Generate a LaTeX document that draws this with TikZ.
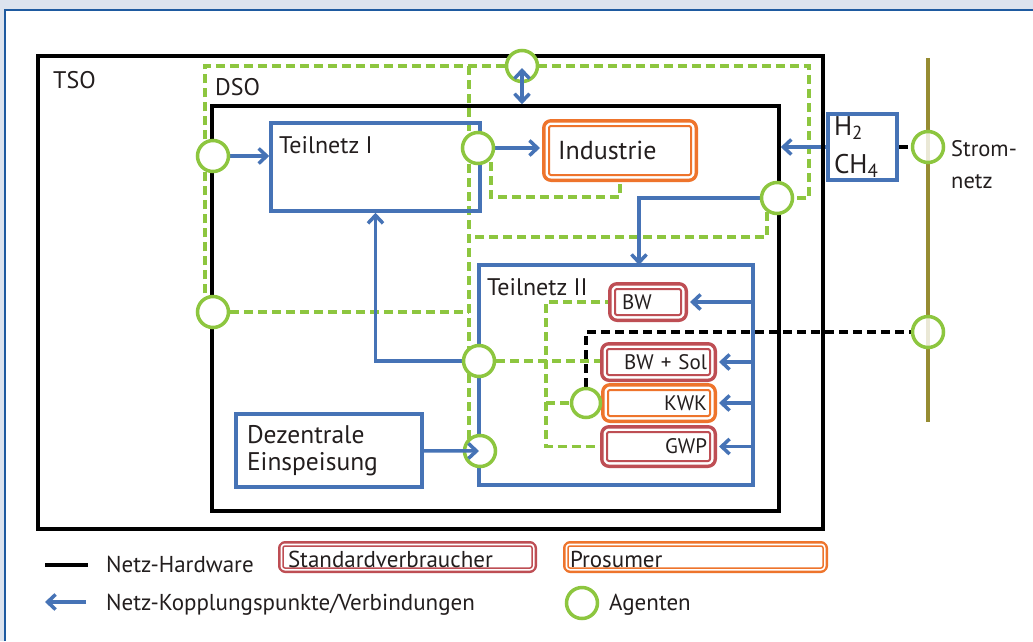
\documentclass[tikz,border=0pt]{standalone}
\usepackage{fontspec}
\setmainfont{PT Sans}
\usepackage{tikz}
\usetikzlibrary{arrows.meta, positioning, backgrounds}
\definecolor{netblue}{RGB}{70, 115, 182}
\definecolor{agentgreen}{RGB}{141, 198, 63}
\definecolor{consred}{RGB}{190, 78, 84}
\definecolor{prosorange}{RGB}{238, 116, 44}
\definecolor{gridolive}{RGB}{150, 140, 50}
\definecolor{framebg}{RGB}{220, 227, 238}
\definecolor{frameblue}{RGB}{30, 90, 160}
\definecolor{labeltext}{RGB}{35, 30, 30}

\tikzset{
  hardware/.style={draw=black, line width=3.5pt},
  subnet/.style={draw=netblue, line width=3.5pt},
  agent/.style={circle, draw=agentgreen, line width=3.5pt, fill=white,
                minimum size=31pt, inner sep=0pt},
  link/.style={netblue, line width=3.5pt},
  agentlink/.style={agentgreen, line width=3.5pt, dash pattern=on 9pt off 5pt},
  hwlink/.style={black, line width=3.5pt, dash pattern=on 9pt off 5pt},
  unit/.style={fill=white, draw=#1, line width=2pt, rounded corners=2pt,
               preaction={draw=#1, line width=14pt, line join=round},
               preaction={draw=white, line width=7pt, line join=round}},
  keyunit/.style={fill=white, draw=#1, line width=1.5pt, rounded corners=2pt,
               preaction={draw=#1, line width=10pt, line join=round},
               preaction={draw=white, line width=5pt, line join=round}},
  lbl/.style={text=labeltext, inner sep=0pt, font=\fontsize{24}{27}\selectfont},
  biglbl/.style={text=labeltext, inner sep=0pt, font=\fontsize{25.5}{27}\selectfont},
  smalllbl/.style={text=labeltext, inner sep=0pt, font=\fontsize{21}{24}\selectfont},
  keylbl/.style={text=labeltext, inner sep=0pt, font=\fontsize{23}{26}\selectfont},
}

\begin{document}
\begin{tikzpicture}[x=1pt, y=-1pt, >={Straight Barb[length=8pt, width=15pt]}]
    \useasboundingbox (0,0) rectangle (1033,641);
    % Netzebenen
    \node[hardware, minimum width=785pt, minimum height=473pt] (tso) at (430.5,292.5) {};
    \node[hardware, minimum width=567pt, minimum height=405pt] (dso) at (495.5,308.5) {};
    \node[lbl, anchor=base west] (tsolbl) at (53,88) {TSO};
    \node[lbl, anchor=base west] (dsolbl) at (215,95) {DSO};
    % Teilnetze
    \node[subnet, minimum width=209pt, minimum height=88pt] (teilI) at (375.5,167) {};
    \node[lbl, anchor=base west] (teilIlbl) at (279,153) {Teilnetz I};
    \node[subnet, minimum width=274pt, minimum height=220pt] (teilII) at (616,375) {};
    \node[lbl, anchor=base west] (teilIIlbl) at (487,295) {Teilnetz II};
    \node[subnet, biglbl, minimum width=186pt, minimum height=73pt,
          text width=164pt, align=left] (dezentral) at (329,450.5) {Dezentrale\\Einspeisung};
    \node[subnet, lbl, font=\fontsize{27}{38}\selectfont, minimum width=69pt,
          minimum height=66pt, text width=57pt, align=left] (gas) at (862.5,147)
          {H\textsubscript{2}\\CH\textsubscript{4}};
    % Verbraucher und Prosumer
    \node[unit=prosorange, lbl, font=\fontsize{26}{28}\selectfont, minimum width=142pt,
          minimum height=49pt, text width=124pt, align=left] (industrie) at (620,150.5) {Industrie};
    \node[unit=consred, smalllbl, minimum width=66pt, minimum height=26pt,
          text width=52pt, align=left] (bw) at (648,302) {BW};
    \node[unit=consred, smalllbl, minimum width=103pt, minimum height=26pt,
          text width=97pt, align=right] (bwsol) at (658.5,362) {BW + Sol};
    \node[unit=prosorange, smalllbl, minimum width=102pt, minimum height=26pt,
          text width=96pt, align=right] (kwk) at (659,403) {KWK};
    \node[unit=consred, smalllbl, minimum width=103pt, minimum height=29pt,
          text width=97pt, align=right] (gwp) at (658.5,446.5) {GWP};
    % Stromnetz
    \coordinate (stromN) at (928,58);
    \coordinate (stromS) at (928,422);
    \node[keylbl, font=\fontsize{22.5}{24}\selectfont, anchor=base west] (strom1) at (951,156) {Strom-};
    \node[keylbl, font=\fontsize{22.5}{24}\selectfont, anchor=base west] (strom2) at (951,188) {netz};
    % Agenten
    \node[agent] (aTSO) at (522,66) {};
    \node[agent] (aTeilI) at (213,156) {};
    \node[agent] (aInd) at (478,148) {};
    \node[agent] (aDSO) at (777,198) {};
    \node[agent] (aLeft) at (213,312) {};
    \node[agent] (aTeilII) at (479,361) {};
    \node[agent] (aEin) at (480,451) {};
    \node[agent, minimum size=29pt] (aKWK) at (586,403) {};
    \node[agent, fill=white, fill opacity=0.8] (aGas) at (928,147) {};
    \node[agent, fill=white, fill opacity=0.8] (aStrom) at (928,332) {};
    % Verbindungen
    \begin{scope}[on background layer]
        \fill[framebg] (0,0) rectangle (1033,641);
        \fill[white] (5,10) rectangle (1033,641);
        \draw[frameblue, line width=2pt] (5,641) |- (1033,10);
        \draw[gridolive, line width=4pt] (stromN) -- (stromS);
        \coordinate (gNW) at (205,66);
        \coordinate (gNE) at (809,66);
        \coordinate (gMid) at (469,66);
        \coordinate (indLoop) at (491,197);
        \coordinate (dsoLoop) at (767,237);
        \coordinate (tree) at (546,302);
        \coordinate (t2in) at (639,265);
        % Agenten-Kommunikation
        \draw[agentlink] (aLeft) -- (aLeft -| gNW) -- (gNW) -- (gNE) -- (gNE |- aDSO) -- (aDSO);
        \draw[agentlink] (gMid) -- (gMid |- aEin);
        \draw[agentlink] (aLeft) -- (aLeft -| gMid);
        \draw[agentlink] (indLoop |- aInd) -- (indLoop) -| (industrie.south);
        \draw[agentlink] (dsoLoop |- aDSO) -- (dsoLoop) -- (dsoLoop -| gMid);
        \draw[agentlink] (bw.west) -| (tree |- gwp.west) -- (gwp.west);
        \draw[agentlink] (aTeilII) -- (aTeilII -| bwsol.west);
        \draw[agentlink] (tree |- aKWK) -- (aKWK);
        % Netz-Hardware
        \draw[hwlink] (aKWK) |- (aStrom);
        \draw[hwlink] (gas) -- (aGas);
        % Kopplungspunkte
        \draw[link, ->] (aTeilI) -- (aTeilI -| teilI.west);
        \draw[link, ->, shorten >=8pt] (aInd) -- (aInd -| industrie.west);
        \draw[link, ->] (gas) -- (gas -| dso.east);
        \draw[link, ->] (aDSO) -| (t2in);
        \draw[link, ->] (aTeilII) -| (teilI.south);
        \foreach \u in {bw, bwsol, kwk, gwp}
            \draw[link, ->, shorten >=8pt] (\u.east -| teilII.east) -- (\u.east);
    \end{scope}
    \draw[link, <->, shorten <=2pt] (aTSO.center) -- (aTSO |- dso.north);
    \draw[link, ->, shorten >=1pt] (dezentral) -- (aEin.center);
    % Legende
    \coordinate (hwA) at (45,565);
    \coordinate (hwB) at (88,565);
    \draw[black, line width=3.5pt] (hwA) -- (hwB);
    \node[keylbl, anchor=base west] (hwlbl) at (106,572) {Netz-Hardware};
    \node[keyunit=consred, keylbl, minimum width=249pt, minimum height=22pt,
          text height=20pt, text depth=0pt, text width=239pt, align=left] (keystd) at (407.5,557) {Standardverbraucher};
    \node[keyunit=prosorange, keylbl, minimum width=255pt, minimum height=22pt,
          text height=20pt, text depth=0pt, text width=251pt, align=left] (keypros) at (695.5,557) {Prosumer};
    \coordinate (lkA) at (86,602);
    \coordinate (lkB) at (45,602);
    \draw[link, ->] (lkA) -- (lkB);
    \node[keylbl, anchor=base west] (lklbl) at (106,610) {Netz-Kopplungspunkte/Verbindungen};
    \node[agent] (aKey) at (582,603) {};
    \node[keylbl, anchor=base west] (agentlbl) at (609,610) {Agenten};
\end{tikzpicture}
\end{document}
